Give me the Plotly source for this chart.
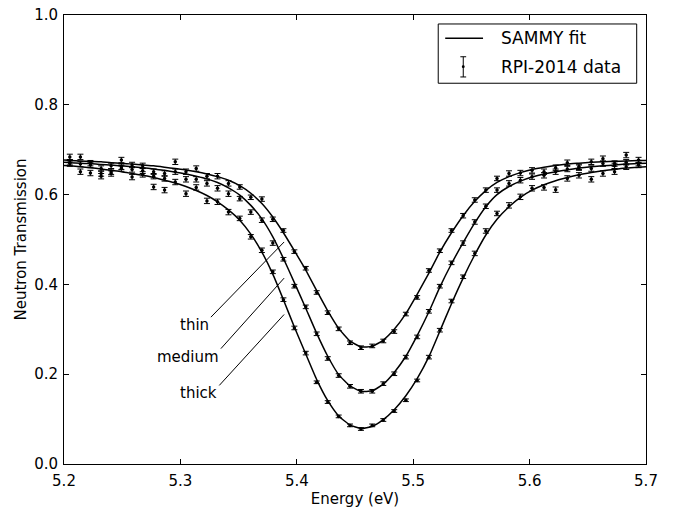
import plotly.graph_objects as go

# ---------------- data ----------------
energy = [5.2050, 5.2141, 5.2227, 5.2319, 5.2405, 5.2493, 5.2585, 5.2676, 5.2770, 5.2864,
          5.2956, 5.3048, 5.3136, 5.3228, 5.3319, 5.3413, 5.3510, 5.3605, 5.3700, 5.3794,
          5.3885, 5.3979, 5.4077, 5.4171, 5.4266, 5.4360, 5.4457, 5.4551, 5.4648, 5.4743,
          5.4837, 5.4937, 5.5034, 5.5135, 5.5229, 5.5329, 5.5429, 5.5529, 5.5624, 5.5720,
          5.5823, 5.5921, 5.6021, 5.6124, 5.6224, 5.6324, 5.6424, 5.6530, 5.6630, 5.6730,
          5.6830, 5.6936]

thin_data = [0.684, 0.684, 0.670, 0.658, 0.664, 0.677, 0.666, 0.664, 0.651, 0.647,
             0.673, 0.651, 0.658, 0.641, 0.641, 0.625, 0.617, 0.594, 0.590, 0.545,
             0.520, 0.473, 0.436, 0.382, 0.337, 0.301, 0.270, 0.259, 0.263, 0.274,
             0.295, 0.334, 0.371, 0.431, 0.475, 0.520, 0.553, 0.588, 0.610, 0.636,
             0.647, 0.648, 0.654, 0.651, 0.660, 0.671, 0.662, 0.673, 0.680, 0.669,
             0.688, 0.677]
medium_data = [0.672, 0.668, 0.666, 0.647, 0.651, 0.662, 0.656, 0.653, 0.641, 0.636,
               0.651, 0.634, 0.634, 0.625, 0.614, 0.602, 0.591, 0.561, 0.543, 0.492,
               0.456, 0.396, 0.350, 0.290, 0.235, 0.197, 0.173, 0.162, 0.162, 0.179,
               0.201, 0.238, 0.283, 0.340, 0.396, 0.448, 0.492, 0.539, 0.574, 0.610,
               0.625, 0.632, 0.640, 0.643, 0.651, 0.657, 0.660, 0.658, 0.669, 0.664,
               0.672, 0.670]
thick_data = [0.669, 0.651, 0.648, 0.641, 0.647, 0.658, 0.639, 0.645, 0.617, 0.610,
              0.628, 0.602, 0.616, 0.586, 0.584, 0.561, 0.547, 0.506, 0.476, 0.428,
              0.366, 0.303, 0.247, 0.182, 0.138, 0.106, 0.086, 0.078, 0.086, 0.098,
              0.118, 0.142, 0.186, 0.238, 0.298, 0.363, 0.417, 0.469, 0.519, 0.558,
              0.576, 0.595, 0.614, 0.616, 0.611, 0.636, 0.643, 0.634, 0.647, 0.651,
              0.662, 0.666]

thin_err = [0.006, 0.006, 0.006, 0.006, 0.006, 0.006, 0.006, 0.006, 0.006, 0.006,
            0.006, 0.006, 0.006, 0.006, 0.006, 0.006, 0.005, 0.005, 0.005, 0.005,
            0.004, 0.004, 0.004, 0.004, 0.004, 0.004, 0.004, 0.004, 0.004, 0.004,
            0.004, 0.004, 0.004, 0.004, 0.004, 0.004, 0.005, 0.005, 0.005, 0.005,
            0.006, 0.006, 0.006, 0.006, 0.006, 0.006, 0.006, 0.006, 0.006, 0.006,
            0.006, 0.006]
medium_err = [0.006, 0.006, 0.006, 0.006, 0.006, 0.006, 0.006, 0.006, 0.006, 0.006,
              0.006, 0.006, 0.006, 0.006, 0.006, 0.006, 0.005, 0.005, 0.005, 0.005,
              0.004, 0.004, 0.004, 0.004, 0.004, 0.004, 0.004, 0.004, 0.004, 0.004,
              0.004, 0.004, 0.004, 0.004, 0.004, 0.004, 0.005, 0.005, 0.005, 0.005,
              0.006, 0.006, 0.006, 0.006, 0.006, 0.006, 0.006, 0.006, 0.006, 0.006,
              0.006, 0.006]
thick_err = [0.006, 0.006, 0.006, 0.006, 0.006, 0.006, 0.006, 0.006, 0.006, 0.006,
             0.006, 0.006, 0.006, 0.006, 0.006, 0.006, 0.005, 0.005, 0.005, 0.004,
             0.004, 0.004, 0.004, 0.003, 0.003, 0.003, 0.003, 0.003, 0.003, 0.003,
             0.003, 0.003, 0.003, 0.004, 0.004, 0.004, 0.004, 0.005, 0.005, 0.005,
             0.006, 0.006, 0.006, 0.006, 0.006, 0.006, 0.006, 0.006, 0.006, 0.006,
             0.006, 0.006]

fit_energy = [5.2000, 5.2050, 5.2141, 5.2227, 5.2319, 5.2405, 5.2493, 5.2585, 5.2676, 5.2770,
              5.2864, 5.2956, 5.3048, 5.3136, 5.3228, 5.3319, 5.3413, 5.3510, 5.3605, 5.3700,
              5.3794, 5.3885, 5.3979, 5.4077, 5.4171, 5.4266, 5.4360, 5.4457, 5.4551, 5.4648,
              5.4743, 5.4837, 5.4937, 5.5034, 5.5135, 5.5229, 5.5329, 5.5429, 5.5529, 5.5624,
              5.5720, 5.5823, 5.5921, 5.6021, 5.6124, 5.6224, 5.6324, 5.6424, 5.6530, 5.6630,
              5.6730, 5.6830, 5.6936, 5.7000]
thin_fit = [0.677, 0.676, 0.675, 0.674, 0.673, 0.671, 0.670, 0.668, 0.666, 0.664,
            0.661, 0.658, 0.655, 0.651, 0.646, 0.640, 0.632, 0.620, 0.603, 0.580,
            0.550, 0.515, 0.475, 0.432, 0.386, 0.341, 0.302, 0.274, 0.261, 0.262,
            0.276, 0.300, 0.335, 0.378, 0.425, 0.472, 0.515, 0.553, 0.585, 0.609,
            0.627, 0.640, 0.649, 0.656, 0.661, 0.665, 0.668, 0.670, 0.672, 0.673,
            0.674, 0.675, 0.676, 0.676]
medium_fit = [0.672, 0.671, 0.670, 0.669, 0.667, 0.666, 0.664, 0.662, 0.660, 0.657,
              0.654, 0.650, 0.646, 0.641, 0.635, 0.627, 0.615, 0.599, 0.576, 0.546,
              0.506, 0.458, 0.404, 0.347, 0.291, 0.240, 0.199, 0.174, 0.162, 0.163,
              0.178, 0.204, 0.240, 0.286, 0.339, 0.394, 0.446, 0.493, 0.537, 0.573,
              0.600, 0.618, 0.630, 0.639, 0.646, 0.651, 0.655, 0.659, 0.662, 0.664,
              0.666, 0.668, 0.669, 0.670]
thick_fit = [0.665, 0.664, 0.662, 0.660, 0.657, 0.654, 0.651, 0.647, 0.643, 0.638,
             0.632, 0.626, 0.618, 0.609, 0.598, 0.584, 0.566, 0.543, 0.512, 0.472,
             0.423, 0.366, 0.305, 0.245, 0.188, 0.141, 0.107, 0.087, 0.079, 0.084,
             0.099, 0.121, 0.152, 0.190, 0.239, 0.296, 0.357, 0.414, 0.466, 0.510,
             0.545, 0.573, 0.594, 0.610, 0.622, 0.631, 0.638, 0.644, 0.649, 0.653,
             0.656, 0.659, 0.661, 0.662]

x_ticks = [5.2, 5.3, 5.4, 5.5, 5.6, 5.7]
x_tick_labels = ["5.2", "5.3", "5.4", "5.5", "5.6", "5.7"]
y_ticks = [0.0, 0.2, 0.4, 0.6, 0.8, 1.0]
y_tick_labels = ["0.0", "0.2", "0.4", "0.6", "0.8", "1.0"]

series_names = ["thin", "medium", "thick"]
legend_labels = ["SAMMY fit", "RPI-2014 data"]

FONT = "DejaVu Sans"

fig = go.Figure()

for fit in [thin_fit, medium_fit, thick_fit]:
    fig.add_trace(go.Scatter(
        x=fit_energy, y=fit, mode="lines",
        line=dict(color="black", width=1.5, shape="spline", smoothing=0.5),
        showlegend=False, hoverinfo="skip"))

for data, err in [(thin_data, thin_err), (medium_data, medium_err), (thick_data, thick_err)]:
    fig.add_trace(go.Scatter(
        x=energy, y=data, mode="markers",
        marker=dict(color="black", size=3.5),
        error_y=dict(type="data", array=err, visible=True, color="black",
                     thickness=1, width=3),
        showlegend=False))

# leader lines for the series labels
label_lines = [
    (5.3262, 0.327, 5.3891, 0.4945),
    (5.3348, 0.257, 5.3891, 0.414),
    (5.3334, 0.175, 5.3891, 0.333),
]
label_text_pos = [(5.3262, 0.309), (5.3348, 0.238), (5.3328, 0.159)]

shapes = []
for (x0, y0, x1, y1) in label_lines:
    shapes.append(dict(type="line", xref="x", yref="y", x0=x0, y0=y0, x1=x1, y1=y1,
                       line=dict(color="black", width=1)))

annotations = []
for name, (tx, ty) in zip(series_names, label_text_pos):
    annotations.append(dict(x=tx, y=ty, xref="x", yref="y", text=name, showarrow=False,
                            xanchor="right", yanchor="middle",
                            font=dict(family=FONT, size=15, color="black")))

# hand-made legend (line sample + error-bar glyph)
shapes.append(dict(type="rect", xref="paper", yref="paper", x0=0.643, x1=0.984,
                   y0=0.848, y1=0.980, line=dict(color="black", width=1),
                   fillcolor="white", layer="above"))
shapes.append(dict(type="line", xref="paper", yref="paper", x0=0.655, x1=0.720,
                   y0=0.948, y1=0.948, line=dict(color="black", width=1.5)))
shapes.append(dict(type="line", xref="paper", yref="paper", x0=0.686, x1=0.686,
                   y0=0.862, y1=0.907, line=dict(color="black", width=1)))
shapes.append(dict(type="line", xref="paper", yref="paper", x0=0.681, x1=0.691,
                   y0=0.862, y1=0.862, line=dict(color="black", width=1)))
shapes.append(dict(type="line", xref="paper", yref="paper", x0=0.681, x1=0.691,
                   y0=0.907, y1=0.907, line=dict(color="black", width=1)))
shapes.append(dict(type="circle", xref="paper", yref="paper", x0=0.6835, x1=0.6885,
                   y0=0.8817, y1=0.8883, line=dict(color="black", width=0),
                   fillcolor="black"))
for lab, ly in zip(legend_labels, [0.948, 0.885]):
    annotations.append(dict(x=0.748, y=ly, xref="paper", yref="paper", text=lab,
                            showarrow=False, xanchor="left", yanchor="middle",
                            font=dict(family=FONT, size=17, color="black")))

axis_common = dict(showline=True, linecolor="black", linewidth=1, mirror="ticks",
                   ticks="inside", ticklen=5, tickcolor="black", tickwidth=1,
                   showgrid=False, zeroline=False, automargin=False,
                   tickfont=dict(family=FONT, size=15, color="black"))

fig.update_layout(
    width=673, height=509,
    margin=dict(l=64, r=27, t=15, b=45),
    paper_bgcolor="white", plot_bgcolor="white",
    font=dict(family=FONT, size=15, color="black"),
    shapes=shapes, annotations=annotations,
    xaxis=dict(range=[5.2, 5.7], tickvals=x_ticks, ticktext=x_tick_labels,
               title=dict(text="Energy (eV)", font=dict(family=FONT, size=15), standoff=4),
               ticklabelstandoff=3, **axis_common),
    yaxis=dict(range=[0.0, 1.0], tickvals=y_ticks, ticktext=y_tick_labels,
               title=dict(text="Neutron Transmission", font=dict(family=FONT, size=15), standoff=3),
               ticklabelstandoff=2, **axis_common),
)

fig.write_html("out.html")
